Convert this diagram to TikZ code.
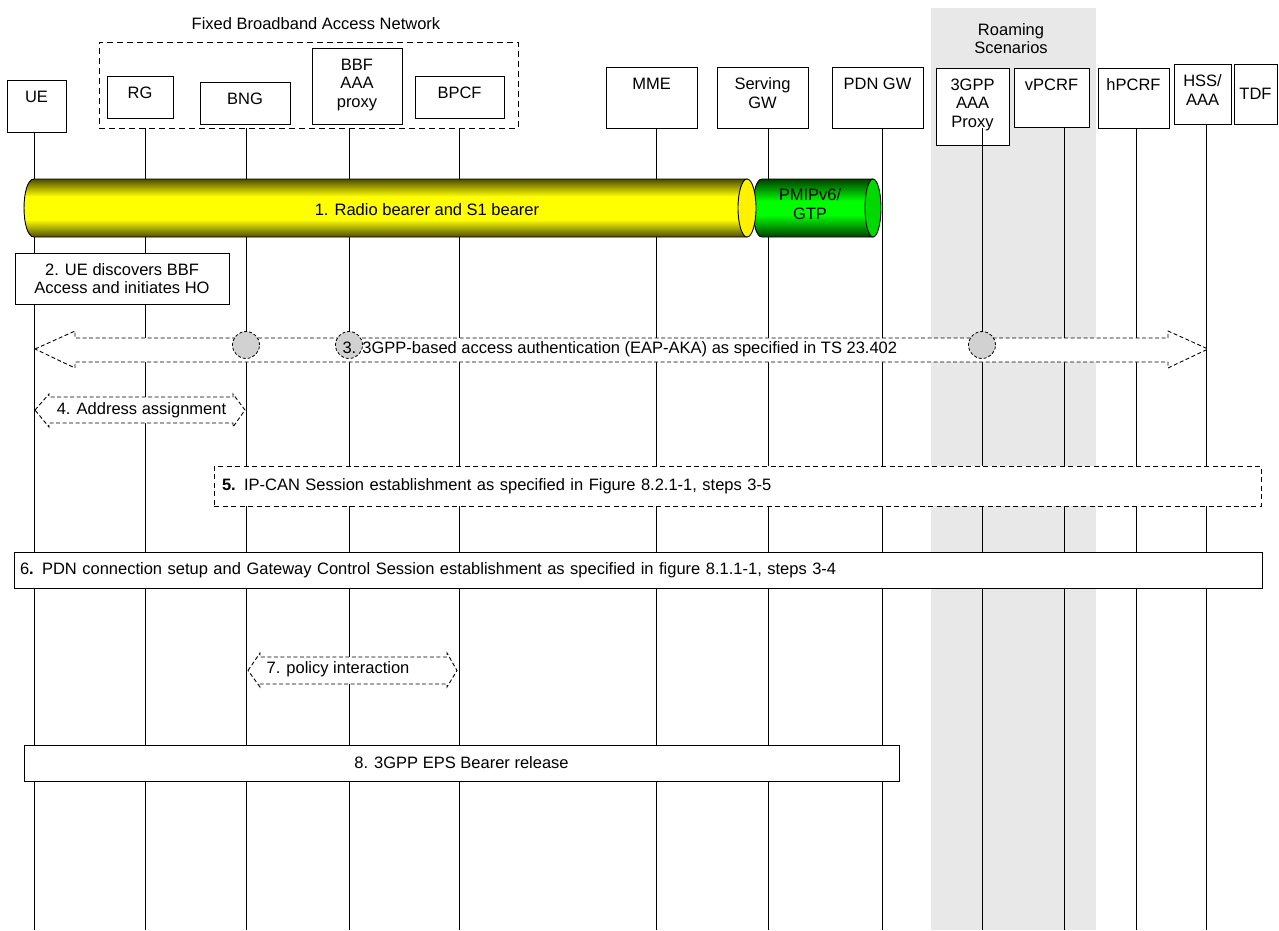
\documentclass[tikz,border=0pt]{standalone}
\usepackage{fontspec}
\setmainfont{Liberation Sans}
\usepackage{xcolor}
\colorlet{ydark}{yellow!30!black}
\colorlet{gdark}{green!25!black}
\pgfdeclareverticalshading{ytube}{100bp}{color(0bp)=(ydark); color(25bp)=(ydark); color(40bp)=(yellow); color(60bp)=(yellow); color(75bp)=(ydark); color(100bp)=(ydark)}
\pgfdeclareverticalshading{gtube}{100bp}{color(0bp)=(gdark); color(25bp)=(gdark); color(44bp)=(green); color(56bp)=(green); color(75bp)=(gdark); color(100bp)=(gdark)}

\begin{document}
\begin{tikzpicture}[x=1pt,y=-1pt,
  font=\fontsize{16.5}{18.5}\selectfont,
  hdr/.style={draw,fill=white,line width=0.9pt,inner sep=0pt},
  hlbl/.style={anchor=north,inner sep=0pt,yshift=-11pt,align=center},
  life/.style={line width=0.9pt},
  stepbox/.style={draw,fill=white,line width=0.9pt,inner sep=0pt},
  barrow/.style={draw,fill=white,line width=0.9pt,dash pattern=on 4pt off 2.5pt},
  hatch/.style={circle,draw,fill=black!18,line width=0.8pt,dash pattern=on 3pt off 2pt,minimum size=27pt,inner sep=0pt},
]
\useasboundingbox (0,0) rectangle (1279,930);
% roaming band
\fill[black!9] (931,8) rectangle (1096,930);
\node[align=center] (roamT) at (1011,38.5) {Roaming\\Scenarios};
% fixed broadband access network
\node (fbanT) at (316,24) {Fixed Broadband Access Network};
\node[draw,line width=0.9pt,dash pattern=on 6pt off 4pt,minimum width=419pt,minimum height=86pt,inner sep=0pt] (grp) at (308.5,85) {};
% header boxes
\node[hdr,minimum width=59pt,minimum height=52pt,label={[hlbl]north:UE}] (ue) at (36.5,106) {};
\node[hdr,minimum width=66pt,minimum height=42pt,label={[hlbl]north:RG}] (rg) at (140,97) {};
\node[hdr,minimum width=90pt,minimum height=42pt,label={[hlbl]north:BNG}] (bng) at (245,103) {};
\node[hdr,minimum width=90pt,minimum height=76pt,label={[hlbl]north:BBF\\AAA\\proxy}] (bbf) at (357,86) {};
\node[hdr,minimum width=89pt,minimum height=42pt,label={[hlbl]north:BPCF}] (bpcf) at (459.5,97) {};
\node[hdr,minimum width=91pt,minimum height=61pt,label={[hlbl]north:MME}] (mme) at (651.5,97.5) {};
\node[hdr,minimum width=91pt,minimum height=61pt,label={[hlbl]north:Serving\\GW}] (sgw) at (762.5,97.5) {};
\node[hdr,minimum width=91pt,minimum height=61pt,label={[hlbl]north:PDN GW}] (pdn) at (877.5,97.5) {};
\node[hdr,minimum width=73pt,minimum height=77pt,label={[hlbl]north:3GPP\\AAA\\Proxy}] (aaap) at (972.5,106.5) {};
\node[hdr,minimum width=75pt,minimum height=59pt,label={[hlbl]north:vPCRF}] (vpcrf) at (1051.5,97.5) {};
\node[hdr,minimum width=71pt,minimum height=60pt,label={[hlbl]north:hPCRF}] (hpcrf) at (1133.5,98) {};
\node[hdr,minimum width=57pt,minimum height=60pt,label={[hlbl]north:HSS/\\AAA}] (hss) at (1202.5,94) {};
\node[hdr,minimum width=43pt,minimum height=60pt] (tdf) at (1255.5,94) {TDF};
% lifelines
\coordinate (ueE) at (34,930);
\coordinate (rgE) at (145,930);
\coordinate (bngE) at (246,930);
\coordinate (bbfE) at (349,930);
\coordinate (bpcfE) at (459,930);
\coordinate (mmeE) at (656,930);
\coordinate (sgwE) at (768,930);
\coordinate (pdnE) at (882,930);
\coordinate (aaapE) at (982,930);
\coordinate (vpcrfE) at (1064,930);
\coordinate (hpcrfE) at (1136,930);
\coordinate (hssE) at (1206,930);
\draw[life] (ue.south -| ueE) -- (ueE);
\draw[life] (grp.south -| rgE) -- (rgE);
\draw[life] (grp.south -| bngE) -- (bngE);
\draw[life] (grp.south -| bbfE) -- (bbfE);
\draw[life] (grp.south -| bpcfE) -- (bpcfE);
\draw[life] (mme.south -| mmeE) -- (mmeE);
\draw[life] (sgw.south -| sgwE) -- (sgwE);
\draw[life] (pdn.south -| pdnE) -- (pdnE);
\draw[life] (mme.south -| aaapE) -- (aaapE);
\draw[life] (vpcrf.south -| vpcrfE) -- (vpcrfE);
\draw[life] (hpcrf.south -| hpcrfE) -- (hpcrfE);
\draw[life] (hss.south -| hssE) -- (hssE);
% 1. bearer tubes
\shadedraw[shading=ytube,line width=0.9pt] (34,179) -- (747,179) -- (747,237) -- (34,237)
  .. controls (20.7,237) and (20.7,179) .. (34,179) -- cycle;
\shadedraw[shading=gtube,line width=0.9pt] (762,179) -- (873,179) -- (873,237) -- (762,237)
  .. controls (750,237) and (750,179) .. (762,179) -- cycle;
\draw[fill=yellow,line width=0.9pt] (747,208) ellipse [x radius=9pt,y radius=29pt];
\draw[fill=green!85!black,line width=0.9pt] (873,208) ellipse [x radius=8pt,y radius=29pt];
\node (s1T) at (427,210) {1. Radio bearer and S1 bearer};
\node[align=center] (gtpT) at (810,204) {PMIPv6/\\GTP};
% 2.
\node[stepbox,minimum width=214pt,minimum height=51pt,align=center] (s2) at (122,278.5)
  {2. UE discovers BBF\\Access and initiates HO};
% 3.
\draw[barrow] (35,349) -- (75,331) -- (75,338) -- (1168,338) -- (1168,331) -- (1208,349)
  -- (1168,368) -- (1168,362) -- (75,362) -- (75,368) -- cycle;
\node[hatch] (h1) at (246,345) {};
\node[hatch] (h2) at (349,345) {};
\node[hatch] (h3) at (982,345) {};
\node[anchor=west] (s3T) at (339,349) {3. 3GPP-based access authentication (EAP-AKA) as specified in TS 23.402};
% 4.
\draw[barrow] (35,410) -- (49,394) -- (49,397) -- (233,397) -- (233,394) -- (245,410)
  -- (233,427) -- (233,423) -- (49,423) -- (49,427) -- cycle;
\node (s4T) at (141.5,410) {4. Address assignment};
% 5.
\node[stepbox,dash pattern=on 5pt off 3.5pt,minimum width=1047pt,minimum height=40pt,text width=1031pt,align=left] (s5) at (737.5,486)
  {\textbf{5.} IP-CAN Session establishment as specified in Figure 8.2.1-1, steps 3-5};
% 6.
\node[stepbox,minimum width=1248pt,minimum height=36pt,text width=1236pt,align=left] (s6) at (638,570)
  {6\textbf{.} PDN connection setup and Gateway Control Session establishment as specified in figure 8.1.1-1, steps 3-4};
% 7.
\draw[barrow] (248,670.5) -- (260,653) -- (260,657) -- (447,657) -- (447,653) -- (457,670.5)
  -- (447,687) -- (447,684) -- (260,684) -- (260,687) -- cycle;
\node (s7T) at (338,669) {7. policy interaction};
% 8.
\node[stepbox,minimum width=875pt,minimum height=36pt] (s8) at (461.5,763) {8. 3GPP EPS Bearer release};
\end{tikzpicture}
\end{document}
